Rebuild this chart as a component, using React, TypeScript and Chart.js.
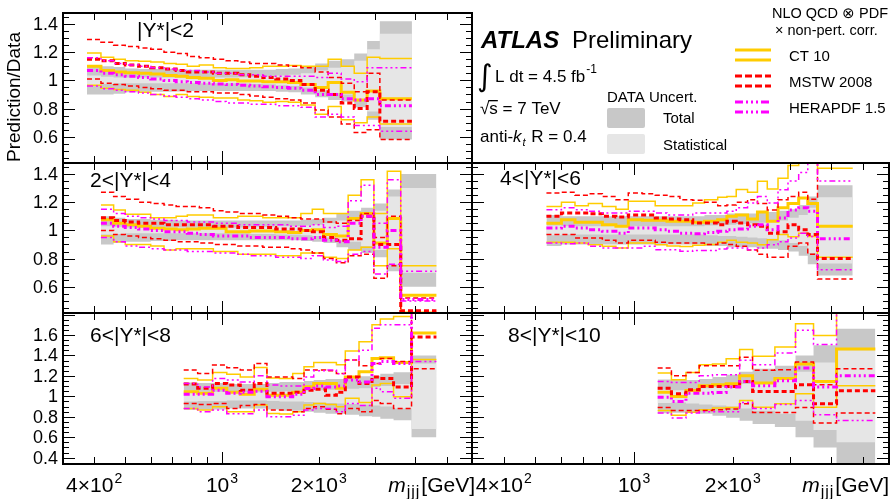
import React, { useEffect, useRef } from 'react';
import { Chart, registerables } from 'chart.js';

Chart.register(...registerables);

const W = 896;
const H = 499;
const FONT = '"Liberation Sans", Arial, Helvetica, sans-serif';

// ---------- colours ----------
const COL_CT10 = '#ffcc00';
const COL_MSTW = '#ff0000';
const COL_HERA = '#ff00ff';
const COL_TOT = '#c8c8c8';
const COL_STAT = '#e6e6e6';

// ---------- axes ----------
const X_MIN = 320;
const X_MAX = 6000;
const X_TICKS = [400, 500, 600, 700, 800, 900, 1000, 2000, 3000, 4000, 5000];
const X_LABEL_VALUES = [400, 1000, 2000];
const X_LABEL_BASE = ['4×10', '10', '2×10'];
const X_LABEL_EXP = ['2', '3', '3'];
const Y_MAJOR = 0.2;
const Y_MINOR = 0.05;
const TOP_Y_MIN = 0.414;
const TOP_Y_MAX = 1.478;
const BOT_Y_MIN = 0.338;
const BOT_Y_MAX = 1.815;

// ---------- panel 1 : |Y*|<2 ----------
const p1Edges = [380, 420, 460, 500, 550, 600, 660, 720, 780, 850, 940, 1030, 1120, 1220, 1340, 1470, 1610, 1760, 1950, 2140, 2350, 2580, 2830, 3100, 3900];
const p1Tot = [0.10, 0.10, 0.095, 0.085, 0.08, 0.08, 0.08, 0.078, 0.075, 0.075, 0.075, 0.075, 0.075, 0.075, 0.075, 0.08, 0.085, 0.10, 0.12, 0.14, 0.15, 0.19, 0.28, 0.42];
const p1Stat = [0.035, 0.025, 0.02, 0.02, 0.02, 0.02, 0.02, 0.02, 0.02, 0.02, 0.02, 0.02, 0.022, 0.025, 0.028, 0.035, 0.04, 0.05, 0.07, 0.09, 0.10, 0.14, 0.22, 0.33];
const p1Ct = [1.10, 1.07, 1.06, 1.055, 1.05, 1.045, 1.035, 1.03, 1.02, 1.015, 1.0, 1.005, 0.995, 0.995, 0.99, 0.99, 0.985, 0.97, 0.95, 0.985, 0.915, 0.86, 0.925, 0.87];
const p1CtUp = [1.195, 1.165, 1.15, 1.14, 1.135, 1.13, 1.12, 1.115, 1.10, 1.11, 1.09, 1.085, 1.085, 1.09, 1.10, 1.10, 1.105, 1.10, 1.10, 1.15, 1.10, 1.05, 1.165, 1.155];
const p1CtDn = [0.965, 0.945, 0.935, 0.93, 0.915, 0.90, 0.885, 0.90, 0.885, 0.88, 0.875, 0.875, 0.86, 0.855, 0.845, 0.85, 0.845, 0.825, 0.76, 0.815, 0.72, 0.70, 0.74, 0.69];
const p1Ms = [1.15, 1.14, 1.12, 1.11, 1.10, 1.09, 1.08, 1.07, 1.06, 1.06, 1.05, 1.05, 1.04, 1.03, 1.02, 1.01, 1.0, 0.97, 0.93, 0.90, 0.84, 0.80, 0.92, 0.71];
const p1MsUp = [1.29, 1.27, 1.25, 1.24, 1.23, 1.22, 1.20, 1.19, 1.17, 1.16, 1.15, 1.14, 1.13, 1.12, 1.12, 1.11, 1.10, 1.09, 1.06, 1.02, 0.98, 0.92, 1.05, 0.86];
const p1MsDn = [1.01, 0.98, 0.97, 0.96, 0.95, 0.94, 0.93, 0.93, 0.92, 0.92, 0.91, 0.91, 0.90, 0.89, 0.88, 0.87, 0.86, 0.84, 0.79, 0.74, 0.69, 0.63, 0.65, 0.58];
const p1He = [1.07, 1.05, 1.04, 1.03, 1.02, 1.01, 1.0, 0.99, 0.985, 0.98, 0.975, 0.97, 0.965, 0.96, 0.955, 0.95, 0.945, 0.93, 0.90, 0.90, 0.87, 0.86, 0.87, 0.82];
const p1HeUp = [1.16, 1.14, 1.12, 1.11, 1.10, 1.09, 1.08, 1.07, 1.07, 1.06, 1.05, 1.05, 1.04, 1.04, 1.03, 1.03, 1.03, 1.03, 1.02, 1.05, 1.01, 0.99, 1.09, 1.09];
const p1HeDn = [0.96, 0.94, 0.93, 0.92, 0.91, 0.90, 0.89, 0.88, 0.87, 0.86, 0.85, 0.84, 0.84, 0.83, 0.83, 0.82, 0.82, 0.81, 0.74, 0.76, 0.74, 0.68, 0.68, 0.64];

// ---------- panel 2 : 2<|Y*|<4 ----------
const p2Edges = [420, 460, 500, 550, 600, 660, 720, 780, 850, 940, 1030, 1120, 1220, 1340, 1470, 1610, 1760, 1910, 2070, 2270, 2470, 2710, 2970, 3270, 3600, 4650];
const p2Tot = [0.10, 0.09, 0.08, 0.08, 0.075, 0.075, 0.07, 0.07, 0.07, 0.07, 0.07, 0.07, 0.07, 0.07, 0.07, 0.07, 0.075, 0.08, 0.09, 0.12, 0.14, 0.16, 0.19, 0.29, 0.40];
const p2Stat = [0.03, 0.025, 0.02, 0.02, 0.02, 0.02, 0.02, 0.02, 0.02, 0.02, 0.02, 0.02, 0.025, 0.025, 0.03, 0.03, 0.035, 0.04, 0.05, 0.07, 0.08, 0.11, 0.14, 0.24, 0.30];
const p2Ct = [1.075, 1.05, 1.04, 1.03, 1.015, 1.01, 1.005, 1.01, 1.015, 1.015, 0.99, 0.99, 0.995, 0.995, 0.99, 0.985, 1.0, 1.005, 0.97, 0.96, 1.085, 1.12, 0.91, 1.085, 0.54];
const p2CtUp = [1.18, 1.145, 1.115, 1.115, 1.09, 1.09, 1.10, 1.11, 1.11, 1.09, 1.09, 1.10, 1.10, 1.09, 1.09, 1.09, 1.12, 1.15, 1.12, 1.12, 1.25, 1.36, 1.12, 1.42, 0.75];
const p2CtDn = [0.96, 0.92, 0.90, 0.90, 0.89, 0.86, 0.87, 0.87, 0.87, 0.85, 0.85, 0.83, 0.83, 0.83, 0.82, 0.82, 0.84, 0.84, 0.81, 0.80, 0.86, 0.88, 0.75, 0.87, 0.42];
const p2Ms = [1.09, 1.07, 1.06, 1.05, 1.05, 1.04, 1.04, 1.04, 1.04, 1.03, 1.03, 1.02, 1.02, 1.02, 1.01, 1.01, 1.0, 0.99, 0.95, 0.93, 0.94, 1.10, 0.90, 0.90, 0.43];
const p2MsUp = [1.27, 1.24, 1.22, 1.20, 1.19, 1.18, 1.17, 1.17, 1.16, 1.14, 1.13, 1.12, 1.12, 1.11, 1.10, 1.09, 1.08, 1.08, 1.06, 1.05, 1.07, 1.12, 0.95, 1.10, 0.52];
const p2MsDn = [1.0, 0.97, 0.96, 0.95, 0.94, 0.93, 0.92, 0.92, 0.91, 0.90, 0.90, 0.89, 0.89, 0.88, 0.88, 0.87, 0.86, 0.84, 0.80, 0.77, 0.82, 0.83, 0.66, 0.75, 0.40];
const p2He = [1.05, 1.03, 1.02, 1.01, 1.0, 0.99, 0.99, 0.98, 0.97, 0.96, 0.96, 0.96, 0.95, 0.95, 0.95, 0.94, 0.94, 0.95, 0.93, 0.92, 1.05, 1.10, 0.88, 1.0, 0.51];
const p2HeUp = [1.15, 1.12, 1.10, 1.09, 1.08, 1.07, 1.07, 1.06, 1.06, 1.05, 1.05, 1.04, 1.04, 1.04, 1.04, 1.03, 1.03, 1.04, 1.02, 1.03, 1.21, 1.32, 1.05, 1.36, 0.71];
const p2HeDn = [0.95, 0.92, 0.89, 0.88, 0.87, 0.86, 0.86, 0.85, 0.85, 0.84, 0.84, 0.83, 0.82, 0.82, 0.81, 0.81, 0.80, 0.82, 0.79, 0.78, 0.83, 0.85, 0.69, 0.76, 0.50];

// ---------- panel 3 : 4<|Y*|<6 ----------
const p3Edges = [540, 600, 660, 725, 800, 880, 960, 1060, 1160, 1260, 1380, 1510, 1640, 1800, 1920, 2050, 2220, 2380, 2550, 2750, 2950, 3180, 3390, 3630, 4650];
const p3Tot = [0.11, 0.10, 0.10, 0.10, 0.10, 0.10, 0.10, 0.10, 0.10, 0.10, 0.10, 0.10, 0.11, 0.11, 0.12, 0.12, 0.12, 0.13, 0.13, 0.14, 0.15, 0.18, 0.24, 0.32];
const p3Stat = [0.035, 0.03, 0.03, 0.03, 0.03, 0.03, 0.03, 0.03, 0.03, 0.03, 0.03, 0.03, 0.035, 0.04, 0.04, 0.045, 0.05, 0.055, 0.06, 0.07, 0.09, 0.11, 0.16, 0.235];
const p3Ct = [1.05, 1.076, 1.057, 1.057, 1.04, 1.03, 1.076, 1.072, 1.072, 1.065, 1.065, 1.058, 1.065, 1.076, 1.10, 1.11, 1.08, 1.13, 1.065, 1.16, 1.19, 1.23, 1.19, 1.03];
const p3CtUp = [1.17, 1.20, 1.175, 1.19, 1.17, 1.15, 1.206, 1.206, 1.175, 1.175, 1.175, 1.194, 1.218, 1.235, 1.24, 1.29, 1.27, 1.348, 1.294, 1.37, 1.46, 1.55, 1.60, 1.44];
const p3CtDn = [0.915, 0.915, 0.91, 0.898, 0.887, 0.875, 0.91, 0.91, 0.898, 0.89, 0.885, 0.895, 0.90, 0.915, 0.93, 0.915, 0.91, 0.898, 0.934, 0.97, 0.955, 0.98, 0.957, 0.81];
const p3Ms = [1.10, 1.123, 1.123, 1.118, 1.10, 1.095, 1.11, 1.11, 1.087, 1.08, 1.075, 1.052, 1.052, 1.04, 1.064, 1.052, 1.04, 1.03, 0.98, 0.99, 1.04, 1.005, 0.97, 0.80];
const p3MsUp = [1.265, 1.27, 1.25, 1.26, 1.24, 1.218, 1.265, 1.26, 1.25, 1.24, 1.218, 1.213, 1.20, 1.175, 1.18, 1.20, 1.218, 1.19, 1.145, 1.218, 1.24, 1.27, 1.22, 1.55];
const p3MsDn = [0.97, 0.97, 0.946, 0.946, 0.93, 0.91, 0.93, 0.93, 0.915, 0.91, 0.91, 0.91, 0.90, 0.91, 0.90, 0.887, 0.86, 0.83, 0.81, 0.81, 0.887, 0.91, 0.83, 0.655];
const p3He = [1.017, 1.03, 1.017, 1.005, 0.993, 0.98, 1.017, 1.017, 1.005, 0.993, 0.98, 0.976, 0.985, 0.993, 1.005, 1.01, 1.03, 1.04, 1.005, 1.088, 1.145, 1.16, 1.135, 0.94];
const p3HeUp = [1.147, 1.16, 1.147, 1.135, 1.123, 1.123, 1.135, 1.135, 1.123, 1.11, 1.11, 1.123, 1.123, 1.123, 1.135, 1.16, 1.195, 1.24, 1.195, 1.289, 1.35, 1.41, 1.50, 1.35];
const p3HeDn = [0.91, 0.906, 0.91, 0.887, 0.875, 0.875, 0.875, 0.887, 0.863, 0.863, 0.852, 0.858, 0.858, 0.868, 0.875, 0.875, 0.863, 0.875, 0.898, 0.92, 0.946, 0.98, 0.957, 0.72];

// ---------- panel 4 : 6<|Y*|<8 ----------
const p4Edges = [760, 840, 935, 1035, 1140, 1260, 1380, 1510, 1660, 1800, 1930, 2100, 2270, 2420, 2670, 2930, 3110, 3420, 3890, 4650];
const p4Tot = [0.135, 0.13, 0.13, 0.12, 0.12, 0.12, 0.13, 0.14, 0.14, 0.15, 0.16, 0.17, 0.17, 0.18, 0.196, 0.20, 0.22, 0.235, 0.40];
const p4Stat = [0.05, 0.045, 0.045, 0.04, 0.04, 0.04, 0.045, 0.05, 0.05, 0.055, 0.06, 0.065, 0.07, 0.075, 0.08, 0.09, 0.10, 0.12, 0.32];
const p4Ct = [1.045, 1.03, 1.08, 1.04, 1.02, 1.07, 1.01, 1.01, 1.04, 1.094, 1.126, 1.126, 1.08, 1.19, 1.24, 1.37, 1.378, 1.33, 1.62];
const p4CtUp = [1.175, 1.16, 1.234, 1.215, 1.19, 1.283, 1.18, 1.175, 1.224, 1.29, 1.33, 1.33, 1.31, 1.443, 1.535, 1.70, 1.757, 1.78, 2.0];
const p4CtDn = [0.88, 0.865, 0.897, 0.848, 0.848, 0.914, 0.832, 0.826, 0.848, 0.914, 0.93, 0.92, 0.897, 0.98, 0.94, 1.11, 1.126, 0.995, 1.36];
const p4Ms = [1.12, 1.08, 1.126, 1.11, 1.06, 1.126, 1.03, 1.03, 1.04, 1.06, 1.07, 1.01, 1.04, 1.19, 1.126, 1.19, 1.175, 1.09, 1.58];
const p4MsUp = [1.257, 1.224, 1.306, 1.28, 1.257, 1.322, 1.19, 1.19, 1.175, 1.257, 1.257, 1.25, 1.224, 1.355, 1.30, 1.32, 1.37, 1.34, 1.95];
const p4MsDn = [0.93, 0.92, 0.93, 0.88, 0.91, 0.92, 0.865, 0.865, 0.848, 0.88, 0.897, 0.874, 0.83, 0.88, 0.85, 0.96, 0.93, 0.88, 1.27];
const p4He = [1.02, 1.02, 1.06, 1.03, 1.04, 1.05, 0.995, 0.995, 1.02, 1.077, 1.10, 1.09, 1.10, 1.16, 1.14, 1.32, 1.34, 1.32, 1.85];
const p4HeUp = [1.126, 1.09, 1.175, 1.16, 1.14, 1.20, 1.11, 1.10, 1.10, 1.19, 1.25, 1.257, 1.22, 1.355, 1.45, 1.665, 1.70, 1.70, 2.1];
const p4HeDn = [0.88, 0.85, 0.865, 0.83, 0.83, 0.865, 0.80, 0.80, 0.815, 0.865, 0.88, 0.88, 0.85, 0.93, 0.91, 1.08, 1.045, 0.98, 1.34];

// ---------- panel 5 : 8<|Y*|<10 ----------
const p5Edges = [1180, 1300, 1440, 1580, 1735, 1910, 2100, 2300, 2690, 3110, 3530, 4150, 5450];
const p5Tot = [0.165, 0.16, 0.16, 0.17, 0.19, 0.21, 0.24, 0.27, 0.30, 0.40, 0.50, 0.66];
const p5Stat = [0.065, 0.06, 0.07, 0.08, 0.09, 0.10, 0.12, 0.14, 0.17, 0.24, 0.33, 0.45];
const p5Ct = [1.041, 0.999, 1.058, 1.103, 1.113, 1.123, 1.202, 1.13, 1.175, 1.316, 1.146, 1.463];
const p5CtUp = [1.228, 1.162, 1.234, 1.31, 1.316, 1.368, 1.457, 1.391, 1.483, 1.711, 1.594, 2.0];
const p5CtDn = [0.862, 0.816, 0.845, 0.868, 0.885, 0.891, 0.96, 0.894, 0.927, 1.025, 0.894, 1.104];
const p5Ms = [1.08, 1.025, 1.064, 1.097, 1.097, 1.097, 1.146, 1.048, 1.048, 1.113, 0.927, 1.055];
const p5MsUp = [1.277, 1.202, 1.234, 1.30, 1.30, 1.30, 1.381, 1.254, 1.26, 1.336, 1.113, 1.27];
const p5MsDn = [0.891, 0.862, 0.862, 0.862, 0.868, 0.875, 0.927, 0.842, 0.842, 0.891, 0.738, 0.836];
const p5He = [0.99, 0.95, 1.03, 1.03, 1.038, 1.09, 1.146, 1.103, 1.153, 1.277, 1.09, 1.202];
const p5HeUp = [1.146, 1.136, 1.136, 1.202, 1.21, 1.21, 1.352, 1.31, 1.424, 1.646, 1.506, 2.0];
const p5HeDn = [0.836, 0.787, 0.836, 0.85, 0.85, 0.85, 0.94, 0.88, 0.92, 0.96, 0.819, 0.764];

// ---------- layout ----------
const X_LEFT = 63;
const X_MID = 472;
const X_RIGHT = 889;
const Y_ROW0 = 13;
const Y_ROW1 = 163;
const Y_ROW2 = 313;
const Y_ROW3 = 464;

type Panel = {
  id: string;
  edges: number[]; tot: number[]; stat: number[];
  ct: number[]; ctUp: number[]; ctDn: number[];
  ms: number[]; msUp: number[]; msDn: number[];
  he: number[]; heUp: number[]; heDn: number[];
  area: [number, number, number, number];
  yMin: number; yMax: number;
  yLabels: boolean; xLabels: boolean;
  label: string; labelX: number; labelY: number;
  legend?: boolean;
};

const PANELS: Panel[] = [
  { id: 'p1', edges: p1Edges, tot: p1Tot, stat: p1Stat, ct: p1Ct, ctUp: p1CtUp, ctDn: p1CtDn, ms: p1Ms, msUp: p1MsUp, msDn: p1MsDn, he: p1He, heUp: p1HeUp, heDn: p1HeDn,
    area: [X_LEFT, Y_ROW0, X_MID, Y_ROW1], yMin: TOP_Y_MIN, yMax: TOP_Y_MAX, yLabels: true, xLabels: false, label: '|Y*|<2', labelX: 137, labelY: 37, legend: true },
  { id: 'p2', edges: p2Edges, tot: p2Tot, stat: p2Stat, ct: p2Ct, ctUp: p2CtUp, ctDn: p2CtDn, ms: p2Ms, msUp: p2MsUp, msDn: p2MsDn, he: p2He, heUp: p2HeUp, heDn: p2HeDn,
    area: [X_LEFT, Y_ROW1, X_MID, Y_ROW2], yMin: TOP_Y_MIN, yMax: TOP_Y_MAX, yLabels: true, xLabels: false, label: '2<|Y*|<4', labelX: 90, labelY: 187 },
  { id: 'p3', edges: p3Edges, tot: p3Tot, stat: p3Stat, ct: p3Ct, ctUp: p3CtUp, ctDn: p3CtDn, ms: p3Ms, msUp: p3MsUp, msDn: p3MsDn, he: p3He, heUp: p3HeUp, heDn: p3HeDn,
    area: [X_MID, Y_ROW1, X_RIGHT, Y_ROW2], yMin: TOP_Y_MIN, yMax: TOP_Y_MAX, yLabels: false, xLabels: false, label: '4<|Y*|<6', labelX: 500, labelY: 185 },
  { id: 'p4', edges: p4Edges, tot: p4Tot, stat: p4Stat, ct: p4Ct, ctUp: p4CtUp, ctDn: p4CtDn, ms: p4Ms, msUp: p4MsUp, msDn: p4MsDn, he: p4He, heUp: p4HeUp, heDn: p4HeDn,
    area: [X_LEFT, Y_ROW2, X_MID, Y_ROW3], yMin: BOT_Y_MIN, yMax: BOT_Y_MAX, yLabels: true, xLabels: true, label: '6<|Y*|<8', labelX: 90, labelY: 342 },
  { id: 'p5', edges: p5Edges, tot: p5Tot, stat: p5Stat, ct: p5Ct, ctUp: p5CtUp, ctDn: p5CtDn, ms: p5Ms, msUp: p5MsUp, msDn: p5MsDn, he: p5He, heUp: p5HeUp, heDn: p5HeDn,
    area: [X_MID, Y_ROW2, X_RIGHT, Y_ROW3], yMin: BOT_Y_MIN, yMax: BOT_Y_MAX, yLabels: false, xLabels: true, label: '8<|Y*|<10', labelX: 508, labelY: 342 },
];

const DASH_MSTW = [5, 3];
const DASH_HERA = [6, 3, 2, 3, 2, 3, 2, 3];
const THIN = 1.5;
const THICK = 3;

function stepData(edges: number[], vals: number[]) {
  return edges.map((e, i) => ({ x: e, y: vals[Math.min(i, vals.length - 1)] }));
}

function lineDs(edges: number[], vals: number[], color: string, width: number, dash: number[], order: number) {
  return {
    data: stepData(edges, vals), borderColor: color, borderWidth: width, borderDash: dash,
    stepped: true, pointRadius: 0, fill: false, order, borderCapStyle: 'butt', borderJoinStyle: 'miter',
  };
}

function bandPair(edges: number[], err: number[], color: string, order: number) {
  return [
    { data: stepData(edges, err.map((e) => 1 + e)), borderColor: 'rgba(0,0,0,0)', borderWidth: 1, backgroundColor: color, fill: '+1', stepped: true, pointRadius: 0, order },
    { data: stepData(edges, err.map((e) => 1 - e)), borderColor: 'rgba(0,0,0,0)', borderWidth: 1, fill: false, stepped: true, pointRadius: 0, order },
  ];
}

function drawSup(ctx: CanvasRenderingContext2D, base: string, exp: string, cx: number, y: number) {
  ctx.font = `21px ${FONT}`;
  const wb = ctx.measureText(base).width;
  ctx.font = `14px ${FONT}`;
  const we = ctx.measureText(exp).width;
  const x0 = cx - (wb + we + 1) / 2;
  ctx.font = `21px ${FONT}`;
  ctx.fillText(base, x0, y);
  ctx.font = `14px ${FONT}`;
  ctx.fillText(exp, x0 + wb + 1, y - 9);
}

function drawMjjj(ctx: CanvasRenderingContext2D, right: number, y: number) {
  ctx.font = `italic 21px ${FONT}`;
  const wm = ctx.measureText('m').width;
  ctx.font = `16px ${FONT}`;
  (ctx as any).letterSpacing = '1px';
  const ws = ctx.measureText('jjj').width;
  (ctx as any).letterSpacing = '0px';
  ctx.font = `21px ${FONT}`;
  const wg = ctx.measureText('[GeV]').width;
  const x0 = right - (wm + ws + wg + 2);
  ctx.font = `italic 21px ${FONT}`;
  ctx.fillText('m', x0, y);
  ctx.font = `16px ${FONT}`;
  (ctx as any).letterSpacing = '1px';
  ctx.fillText('jjj', x0 + wm + 1, y + 5);
  (ctx as any).letterSpacing = '0px';
  ctx.font = `21px ${FONT}`;
  ctx.fillText('[GeV]', x0 + wm + ws + 2, y);
}

function drawLegend(ctx: CanvasRenderingContext2D) {
  ctx.save();
  ctx.fillStyle = '#000';
  ctx.textAlign = 'left';
  ctx.textBaseline = 'alphabetic';
  // y-axis title
  ctx.save();
  ctx.translate(20, 97);
  ctx.rotate(-Math.PI / 2);
  ctx.textAlign = 'center';
  ctx.font = `19px ${FONT}`;
  ctx.fillText('Prediction/Data', 0, 0);
  ctx.restore();

  ctx.font = `italic bold 24px ${FONT}`;
  ctx.fillText('ATLAS', 481, 48);
  ctx.font = `24px ${FONT}`;
  ctx.fillText('Preliminary', 572, 48);

  ctx.font = `30px "DejaVu Sans"`;
  ctx.fillText('∫', 477, 86);
  ctx.font = `17px ${FONT}`;
  ctx.fillText('L dt = 4.5 fb', 495, 82);
  const wl = ctx.measureText('L dt = 4.5 fb').width;
  ctx.font = `12px ${FONT}`;
  ctx.fillText('-1', 495 + wl + 1, 73);

  ctx.font = `17px ${FONT}`;
  ctx.fillText('√', 480, 114);
  const wr = ctx.measureText('√').width;
  ctx.fillText('s = 7 TeV', 480 + wr, 114);
  const wsb = ctx.measureText('s').width;
  ctx.fillRect(480 + wr - 1, 100, wsb + 1, 1.3);

  ctx.fillText('anti-', 480, 142);
  let x = 480 + ctx.measureText('anti-').width;
  ctx.font = `italic 17px ${FONT}`;
  ctx.fillText('k', x, 142);
  x += ctx.measureText('k').width;
  ctx.font = `italic 11px ${FONT}`;
  ctx.fillText('t', x + 1, 146);
  x += ctx.measureText('t').width + 2;
  ctx.font = `17px ${FONT}`;
  ctx.fillText(' R = 0.4', x, 142);

  ctx.font = `15px ${FONT}`;
  ctx.fillText('DATA Uncert.', 607, 102);
  ctx.fillStyle = COL_TOT;
  ctx.beginPath();
  (ctx as any).roundRect(607, 108, 38, 20, 2);
  ctx.fill();
  ctx.fillStyle = COL_STAT;
  ctx.beginPath();
  (ctx as any).roundRect(607, 134, 38, 20, 2);
  ctx.fill();
  ctx.fillStyle = '#000';
  ctx.fillText('Total', 663, 123);
  ctx.fillText('Statistical', 663, 150);

  ctx.font = `14.5px ${FONT}`;
  ctx.fillText('NLO QCD ⊗ PDF', 772, 18);
  ctx.fillText('× non-pert. corr.', 775, 35);

  const legendRows: [string, string, number[], number][] = [
    ['CT 10', COL_CT10, [], 50],
    ['MSTW 2008', COL_MSTW, [7, 3], 76],
    ['HERAPDF 1.5', COL_HERA, [8, 3, 2, 3, 2, 3, 2, 3], 102],
  ];
  for (const [name, col, dash, yy] of legendRows) {
    ctx.strokeStyle = col;
    ctx.lineWidth = 3;
    ctx.setLineDash(dash);
    ctx.beginPath();
    ctx.moveTo(735, yy); ctx.lineTo(771, yy);
    ctx.moveTo(735, yy + 10); ctx.lineTo(771, yy + 10);
    ctx.stroke();
    ctx.setLineDash([]);
    ctx.font = `15px ${FONT}`;
    ctx.fillStyle = '#000';
    ctx.fillText(name, 789, yy + 11);
  }
  ctx.restore();
}

function framePlugin(p: Panel) {
  return {
    id: 'frame_' + p.id,
    afterDraw(chart: any) {
      const ctx: CanvasRenderingContext2D = chart.ctx;
      const a = chart.chartArea;
      const xs = chart.scales.x;
      const ys = chart.scales.y;
      ctx.save();
      ctx.strokeStyle = '#000';
      ctx.lineWidth = 1;
      ctx.beginPath();
      for (const v of X_TICKS) {
        const px = Math.round(xs.getPixelForValue(v)) + 0.5;
        const len = v === 1000 ? 12 : 7;
        ctx.moveTo(px, a.bottom); ctx.lineTo(px, a.bottom - len);
        ctx.moveTo(px, a.top); ctx.lineTo(px, a.top + len);
      }
      const k0 = Math.ceil(ys.min / Y_MINOR - 1e-6);
      const k1 = Math.floor(ys.max / Y_MINOR + 1e-6);
      const majors: number[] = [];
      for (let k = k0; k <= k1; k++) {
        const v = k * Y_MINOR;
        const r = v / Y_MAJOR;
        const major = Math.abs(r - Math.round(r)) < 1e-6;
        const py = Math.round(ys.getPixelForValue(v)) + 0.5;
        if (major && py - a.top > 6) majors.push(v);
        const len = major ? 12 : 6;
        ctx.moveTo(a.left, py); ctx.lineTo(a.left + len, py);
        ctx.moveTo(a.right, py); ctx.lineTo(a.right - len, py);
      }
      ctx.stroke();
      ctx.lineWidth = 2;
      ctx.strokeRect(a.left, a.top, a.right - a.left, a.bottom - a.top);

      ctx.fillStyle = '#000';
      if (p.yLabels) {
        ctx.font = `18px ${FONT}`;
        ctx.textAlign = 'right';
        ctx.textBaseline = 'middle';
        for (const v of majors) {
          const txt = String(Math.round(v * 10) / 10);
          ctx.fillText(txt, a.left - 5, ys.getPixelForValue(v) + 1);
        }
      }
      ctx.textAlign = 'left';
      ctx.textBaseline = 'alphabetic';
      if (p.xLabels) {
        X_LABEL_VALUES.forEach((v, i) => {
          drawSup(ctx, X_LABEL_BASE[i], X_LABEL_EXP[i], xs.getPixelForValue(v), a.bottom + 28);
        });
        drawMjjj(ctx, p.id === 'p4' ? a.right + 3 : a.right, a.bottom + 28);
      }
      ctx.font = `21px ${FONT}`;
      ctx.fillText(p.label, p.labelX, p.labelY);
      if (p.legend) drawLegend(ctx);
      ctx.restore();
    },
  };
}

function buildConfig(p: Panel): any {
  const e = p.edges;
  const datasets: any[] = [
    ...bandPair(e, p.tot, COL_TOT, 100),
    ...bandPair(e, p.stat, COL_STAT, 90),
    lineDs(e, p.ctUp, COL_CT10, THIN, [], 30),
    lineDs(e, p.ctDn, COL_CT10, THIN, [], 30),
    lineDs(e, p.ct, COL_CT10, THICK, [], 30),
    lineDs(e, p.msUp, COL_MSTW, THIN, DASH_MSTW, 20),
    lineDs(e, p.msDn, COL_MSTW, THIN, DASH_MSTW, 20),
    lineDs(e, p.ms, COL_MSTW, THICK, DASH_MSTW, 20),
    lineDs(e, p.heUp, COL_HERA, THIN, DASH_HERA, 10),
    lineDs(e, p.heDn, COL_HERA, THIN, DASH_HERA, 10),
    lineDs(e, p.he, COL_HERA, THICK, DASH_HERA, 10),
  ];
  const [l, t, r, b] = p.area;
  return {
    type: 'line',
    data: { datasets },
    options: {
      animation: false,
      responsive: false,
      devicePixelRatio: 1,
      events: [],
      layout: { padding: { left: l, top: t, right: W - r, bottom: H - b } },
      scales: {
        x: { type: 'logarithmic', min: X_MIN, max: X_MAX, display: false },
        y: { type: 'linear', min: p.yMin, max: p.yMax, display: false },
      },
      plugins: { legend: { display: false }, tooltip: { enabled: false } },
    },
    plugins: [framePlugin(p)],
  };
}

function PanelChart({ panel }: { panel: Panel }) {
  const ref = useRef<HTMLCanvasElement>(null);
  useEffect(() => {
    const chart = new Chart(ref.current as HTMLCanvasElement, buildConfig(panel));
    return () => chart.destroy();
  }, [panel]);
  return (
    <canvas
      ref={ref}
      width={W}
      height={H}
      style={{ position: 'absolute', left: 0, top: 0, width: W, height: H }}
    />
  );
}

export default function App() {
  return (
    <div style={{ position: 'fixed', left: 0, top: 0, width: W, height: H, background: '#fff', overflow: 'hidden' }}>
      {PANELS.map((p) => (
        <PanelChart key={p.id} panel={p} />
      ))}
    </div>
  );
}
